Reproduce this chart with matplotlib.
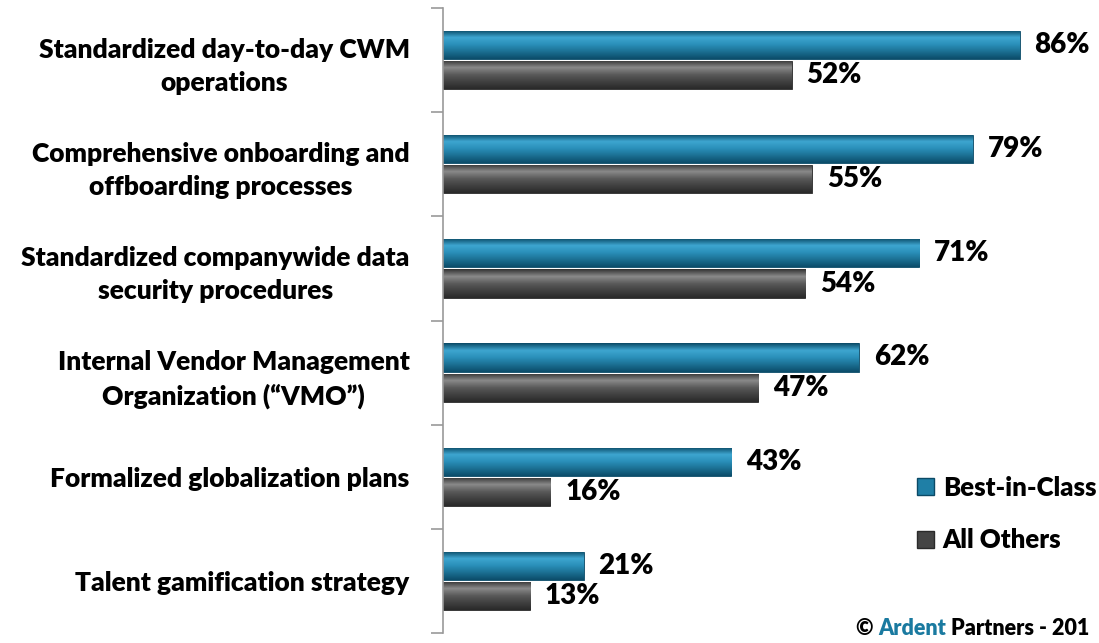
import numpy as np
import matplotlib.pyplot as plt
from matplotlib.colors import LinearSegmentedColormap
from matplotlib.patches import Patch

plt.rcParams['font.family'] = ['Lato', 'DejaVu Sans']
plt.rcParams['font.weight'] = 'heavy'

categories = ['Standardized day-to-day CWM\noperations',
              'Comprehensive onboarding and\noffboarding processes',
              'Standardized companywide data\nsecurity procedures',
              'Internal Vendor Management\nOrganization (\u201cVMO\u201d)',
              'Formalized globalization plans',
              'Talent gamification strategy']
best_in_class = [86, 79, 71, 62, 43, 21]
all_others = [52, 55, 54, 47, 16, 13]
series_names = ['Best-in-Class', 'All Others']

blue_cmap = LinearSegmentedColormap.from_list(
    'b', ['#0a4a66', '#3ea6d0', '#2a8fb9', '#1b6f92', '#0c4d6a'])
gray_cmap = LinearSegmentedColormap.from_list(
    'g', ['#333333', '#8a8a8a', '#5a5a5a', '#404040', '#2a2a2a'])

fig = plt.figure(figsize=(10.99, 6.43), dpi=100)
ax = fig.add_axes([443 / 1099, 10 / 643, 1 - 443 / 1099, 625 / 643])

y = np.arange(len(categories))
h = 0.27
b1 = ax.barh(y - 0.145, best_in_class, height=h, color='#1f7fa6',
             edgecolor='#0b4a66', linewidth=0.6)
b2 = ax.barh(y + 0.145, all_others, height=h, color='#454545',
             edgecolor='#2a2a2a', linewidth=0.6)

# glossy look: gradient image clipped to each bar
grad = np.linspace(0, 1, 64).reshape(-1, 1)
for bars, cmap in ((b1, blue_cmap), (b2, gray_cmap)):
    for p in bars:
        x0, y0 = p.get_x(), p.get_y()
        im = ax.imshow(grad, cmap=cmap, aspect='auto', origin='upper',
                       extent=(x0, x0 + p.get_width(), y0 + p.get_height(), y0),
                       zorder=2)
        im.set_clip_path(p)

for bars, vals in ((b1, best_in_class), (b2, all_others)):
    for p, v in zip(bars, vals):
        ax.text(v + 2.2, p.get_y() + p.get_height() / 2, f'{v}%',
                va='center', ha='left', fontsize=20, zorder=3)

ax.set_xlim(0, 97.8)
ax.set_ylim(len(categories) - 0.5, -0.5)
ax.set_yticks(y)
ax.set_yticklabels(categories, fontsize=19, multialignment='center',
                   linespacing=1.45)
ax.set_yticks(np.arange(len(categories) + 1) - 0.5, minor=True)
ax.tick_params(axis='y', which='major', length=0, pad=24)
ax.tick_params(axis='y', which='minor', length=9, width=1.2,
               color='#999999', direction='out')
ax.set_xticks([])
for s in ('top', 'right', 'bottom'):
    ax.spines[s].set_visible(False)
ax.spines['left'].set_color('#999999')
ax.spines['left'].set_linewidth(1.2)

handles = [Patch(facecolor='#1f7fa6', edgecolor='#0b4a66'),
           Patch(facecolor='#454545', edgecolor='#2a2a2a')]
leg = fig.legend(handles, series_names, loc='center left',
                 bbox_to_anchor=(899 / 1099, 1 - 514 / 643), frameon=False,
                 fontsize=18.5, handlelength=0.65, handleheight=0.65,
                 handletextpad=0.35, labelspacing=1.1, borderpad=0.2)
for txt in leg.get_texts():
    txt.set_fontweight('heavy')

t = fig.text(856 / 1099, 4 / 643, '\u00a9 ', fontsize=15.5, va='bottom',
             ha='left')
t2 = fig.text(0, 0, 'Ardent', fontsize=15.5, color='#1a7aa0', va='bottom',
              ha='left')
fig.canvas.draw()
r = fig.canvas.get_renderer()
bb = t.get_window_extent(r)
t2.set_position((bb.x1 / fig.bbox.width, 4 / 643))
bb2 = t2.get_window_extent(r)
fig.text(bb2.x1 / fig.bbox.width, 4 / 643, ' Partners - 201', fontsize=15.5,
         va='bottom', ha='left')

fig.savefig('out.png', dpi=100)
